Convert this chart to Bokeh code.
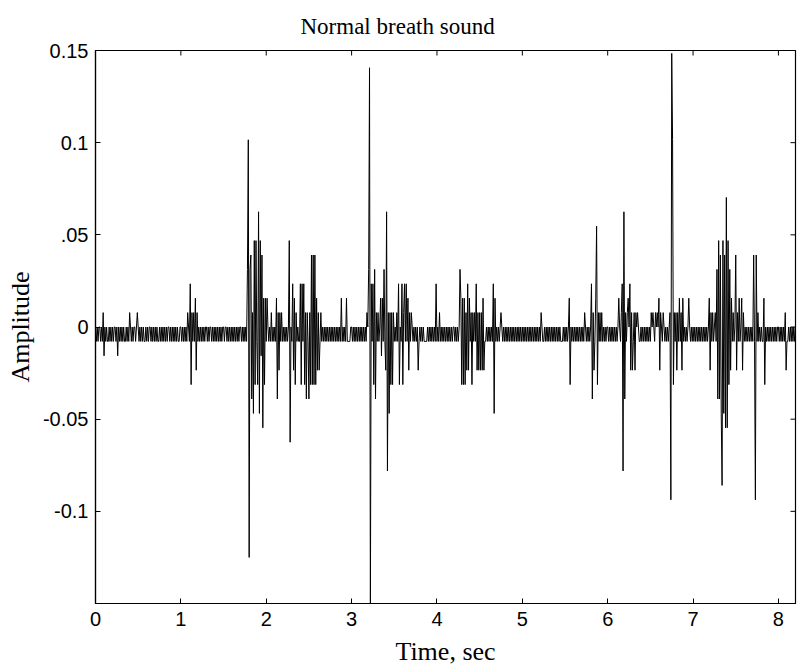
import math
from bokeh.plotting import figure
from bokeh.models import FixedTicker, Range1d
from bokeh.embed import file_html
from bokeh.resources import INLINE

# ---- data -----------------------------------------------------------------
# The recording is 8-bit audio: every sample is a whole number of quantisation
# steps (LSB = 1/128).  Each string below is 0.1 s of signal read at 0.01 s
# per character: '0' = 0, 'A'..'T' = +1..+20 steps, 'a'..'t' = -1..-20 steps.
LSB = 1 / 128
DT = 0.01
sec_0 = ["0a0a00a0aA", "b0a0aa0a0a", "0a00a0b0a0", "a0a0aa0a0a", "A0a0a00a0A",
         "0a0a0a0aa0", "a0a00a0a0a", "0a0aa0a0a0", "a0a0a00a0a", "0a0a0a0aa0"]
sec_1 = ["0a0a0a0aA0", "aCdAaAaBcA", "a0a0a0a0a0", "0a0a00a0a0", "a0a0a0a0a0",
         "0a00a0a0a0", "a0a0a0a0a0", "0a0a0a0aDM", "pDEeAfFdFa", "dHfFbEgBdB"]
sec_2 = ["aB0a0aAa0a", "0aBeAcAaAa", "0a0a0a0Fh0", "aCcBdAa0aa", "CdCaCdAeAa",
         "eAdEdEdEdB", "cAcaAa0a0a", "0a0a0a0a0a", "0a0a0a0aBa", "0a0aBaaaa0"]
sec_3 = ["0a0a0a0a0a", "0a0a0a0aA0", "DRtCaCdDeA", "aAa0BbBaDa", "cHjAfAdAdA",
         "a0aAaCd0aC", "dACaCaBcAa", "A0a0a0a0ca", "0a0a0aaaa0", "a0a0a0a0aC"]
sec_4 = ["a0aAa0a0a0", "a0a0a0a0a0", "0a0a0a0DBd", "BdBdAcCcBa", "AdAaAaCcAc",
         "AcAcBcaa0a", "0a0a0aCfBa", "0a0a0A0a0a", "0a0a0a0a0a", "0a0a0a0a0a"]
sec_5 = ["0a0a0a0a0a", "0a0a0a0a0a", "0aA0aa0a0a", "0a0a0a0a0a", "0a0a0aaa0a",
         "0a0a0Bd0a0", "a0a0a0a0a0", "a0aA0a0a0a", "0CeAcaBGdA", "aAaAa0a0a0"]
sec_6 = ["0a0a0a0a0a", "0a0B0aACjH", "eAaAB0CcAc", "aAcA0A0aa0", "a0a0a0a0a0",
         "aA0A0aA0A0", "BcA0aA0a0a", "0a0AlSMdAa", "AcAaBaAcBa", "0a0a0B0a0a"]
sec_7 = ["0a0a0a0a0a", "0a0a0a0a0B", "cAaAa0AaDe", "FeEfkFfEgI", "gFdDcBaAa0",
         "EcAaBa0BcA", "a0a0a0a0a0", "aEalEaAa0a", "0aaBd0a0a0", "a0a0a0a0a0"]
sec_8 = ["0a0a0a0aAc", "aa0a0a0a0a", "0"]
seconds = [sec_0, sec_1, sec_2, sec_3, sec_4, sec_5, sec_6, sec_7, sec_8]

x_ticks = [0, 1, 2, 3, 4, 5, 6, 7, 8]
y_ticks = [-0.1, -0.05, 0, 0.05, 0.1, 0.15]
y_tick_labels = {-0.1: "-0.1", -0.05: "-0.05", 0: "0", 0.05: ".05", 0.1: "0.1", 0.15: "0.15"}
X_RANGE = (0, 8.2)
Y_RANGE = (-0.15, 0.15)


def level(ch):
    if ch == "0":
        return 0
    if ch.isupper():
        return ord(ch) - 64
    return -(ord(ch) - 96)


time_sec, amplitude = [], []
for s, chunks in enumerate(seconds):
    for k, chunk in enumerate(chunks):
        for j, ch in enumerate(chunk):
            time_sec.append(round(s + 0.1 * k + DT * j, 4))
            amplitude.append(level(ch) * LSB)

# ---- figure -----------------------------------------------------------------
p = figure(width=798, height=672, output_backend="svg", toolbar_location=None,
           x_range=Range1d(*X_RANGE), y_range=Range1d(*Y_RANGE),
           min_border_left=95, min_border_right=3, min_border_top=49, min_border_bottom=69,
           background_fill_color="white", border_fill_color="white",
           outline_line_color="black", outline_line_width=1.2)
p.grid.visible = False

p.line(time_sec, amplitude, line_color="black", line_width=1)

TICK_FONT = "Liberation Sans"
LABEL_FONT = "Liberation Serif"

xa = p.xaxis[0]
xa.ticker = FixedTicker(ticks=x_ticks)
ya = p.yaxis[0]
ya.ticker = FixedTicker(ticks=y_ticks)
ya.major_label_overrides = y_tick_labels

for ax in (xa, ya):
    ax.major_tick_in = 5
    ax.major_tick_out = 0
    ax.minor_tick_in = 0
    ax.minor_tick_out = 0
    ax.axis_line_color = "black"
    ax.axis_line_width = 1.2
    ax.major_tick_line_color = "black"
    ax.major_label_text_font = TICK_FONT
    ax.major_label_text_font_size = "20px"
    ax.major_label_text_color = "black"
    ax.axis_label_text_font = LABEL_FONT
    ax.axis_label_text_font_size = "26px"
    ax.axis_label_text_font_style = "normal"
    ax.axis_label_text_color = "black"

xa.axis_label = "Time, sec"
xa.major_label_standoff = 8
xa.axis_label_standoff = 8
ya.axis_label = "Amplitude"
ya.major_label_standoff = 7
ya.axis_label_standoff = 5

# mirrored inward tick marks on the top and right edges of the box
p.ray(x=x_ticks, y=[Y_RANGE[1]] * len(x_ticks), length=5, length_units="screen",
      angle=-math.pi / 2, line_color="black", line_width=1)
p.ray(x=[X_RANGE[1]] * len(y_ticks), y=y_ticks, length=5, length_units="screen",
      angle=math.pi, line_color="black", line_width=1)

p.title.text = "Normal breath sound"
p.title.align = "left"
p.title.offset = 205
p.title.text_font = LABEL_FONT
p.title.text_font_size = "23px"
p.title.text_font_style = "normal"
p.title.text_color = "black"
p.title.standoff = 23

open("out.html", "w").write(file_html(p, INLINE))
